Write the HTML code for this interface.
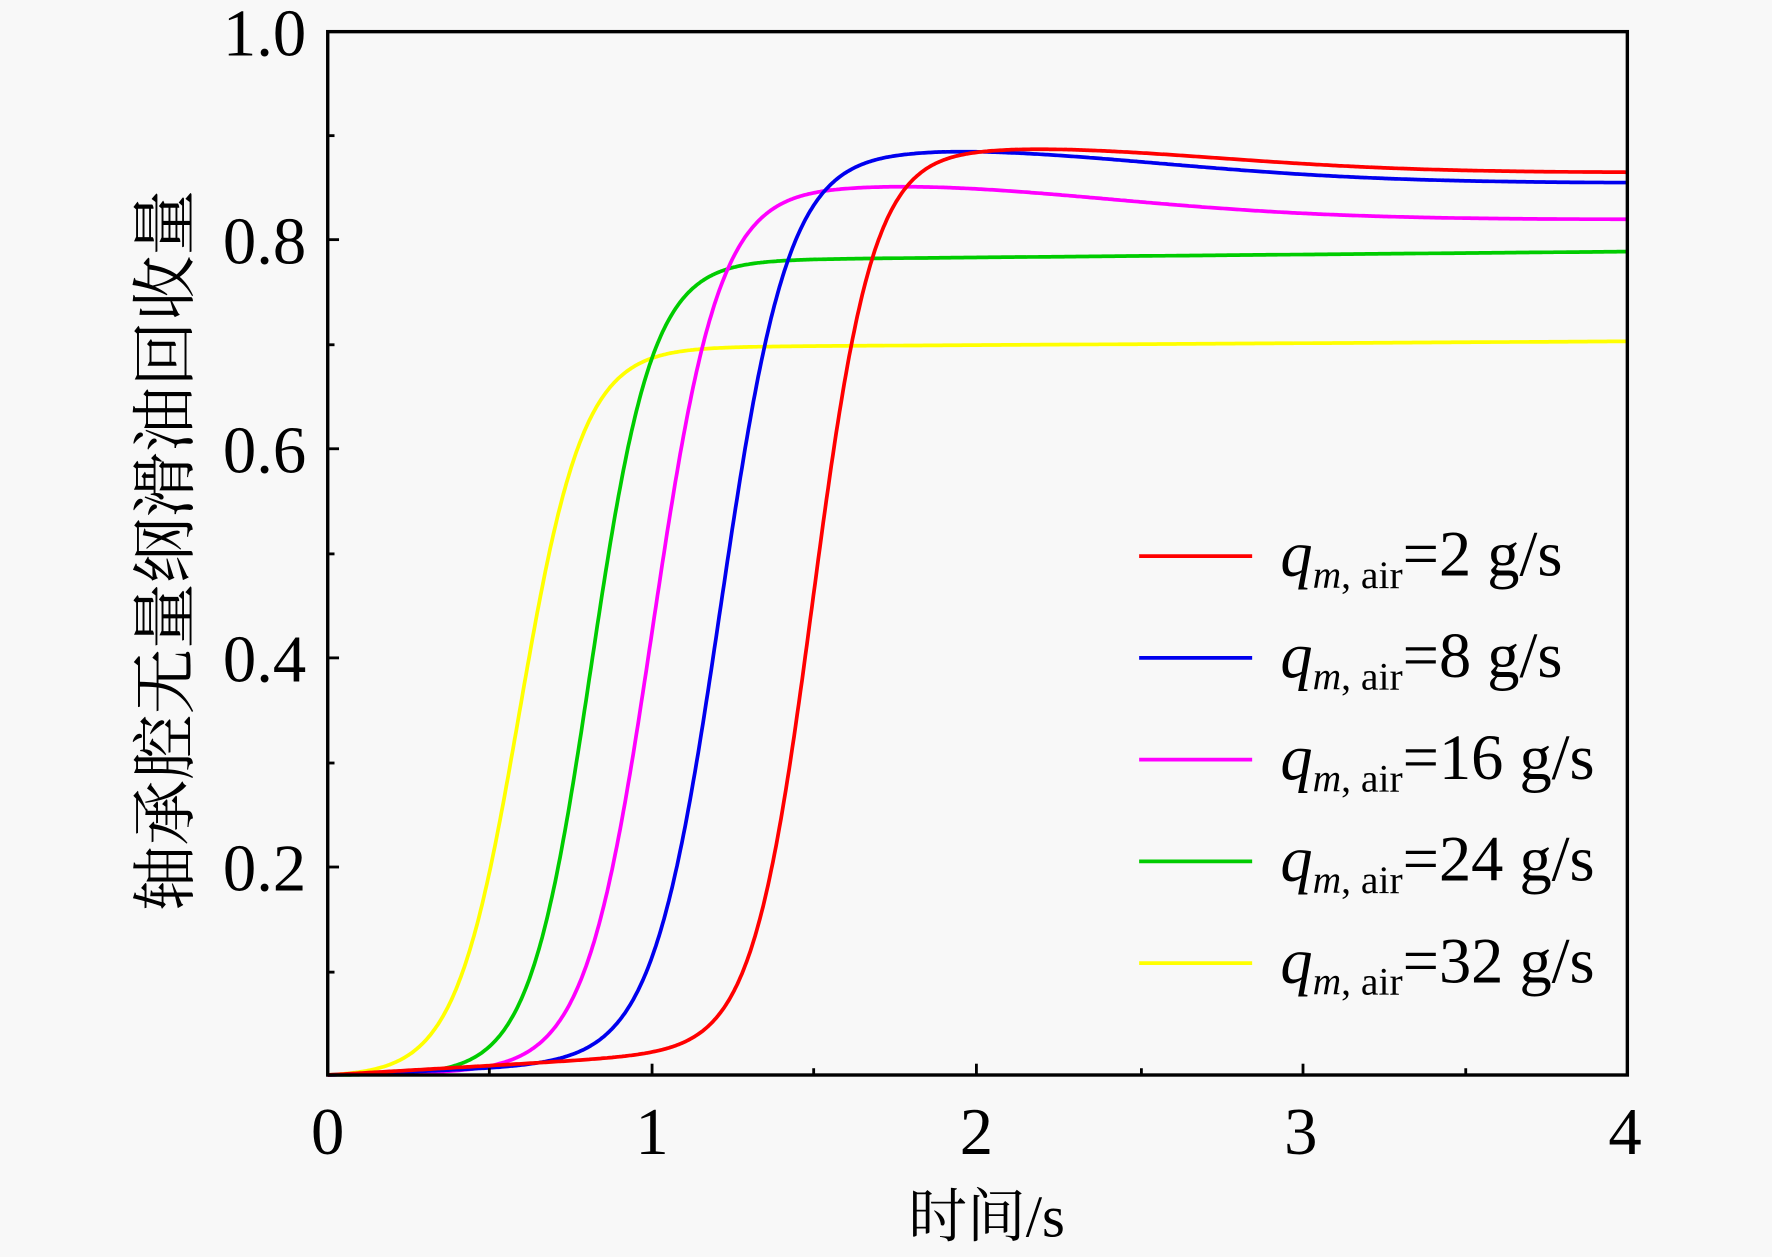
<!DOCTYPE html>
<html><head><meta charset="utf-8"><style>
html,body{margin:0;padding:0;background:#f8f8f8;}
svg{display:block;}
text{font-family:"Liberation Serif","Noto Serif CJK SC",serif;fill:#000;}
</style></head><body>
<svg width="1772" height="1257" viewBox="0 0 1568 1112" preserveAspectRatio="none" xmlns="http://www.w3.org/2000/svg">
<rect width="1568" height="1112" fill="#f8f8f8"/>
<g fill="none" stroke-width="3.3" stroke-linejoin="round">
<path id="cy" stroke="#ffff00"/>
<path id="cg" stroke="#00cc00"/>
<path id="cm" stroke="#ff00ff"/>
<path id="cb" stroke="#0000ee"/>
<path id="cr" stroke="#ff0000"/>
</g>
<rect x="290" y="28" width="1150" height="923" stroke="#000" stroke-width="3" fill="none"/>
<g stroke="#000" stroke-width="2.5">
<line x1="577" y1="951" x2="577" y2="941"/><line x1="864" y1="951" x2="864" y2="941"/><line x1="1153" y1="951" x2="1153" y2="941"/>
<line x1="433" y1="951" x2="433" y2="945"/><line x1="720" y1="951" x2="720" y2="945"/><line x1="1010" y1="951" x2="1010" y2="945"/><line x1="1297" y1="951" x2="1297" y2="945"/>
<line x1="290" y1="212" x2="300" y2="212"/><line x1="290" y1="397" x2="300" y2="397"/><line x1="290" y1="582" x2="300" y2="582"/><line x1="290" y1="767" x2="300" y2="767"/>
<line x1="290" y1="120" x2="296" y2="120"/><line x1="290" y1="305" x2="296" y2="305"/><line x1="290" y1="490" x2="296" y2="490"/><line x1="290" y1="675" x2="296" y2="675"/><line x1="290" y1="860" x2="296" y2="860"/>
</g>
<g font-size="59" text-anchor="end">
<text x="271" y="49">1.0</text><text x="271" y="233">0.8</text><text x="271" y="418">0.6</text><text x="271" y="603">0.4</text><text x="271" y="788">0.2</text>
</g>
<g font-size="59" text-anchor="middle">
<text x="290" y="1021">0</text><text x="577" y="1021">1</text><text x="864" y="1021">2</text><text x="1151" y="1021">3</text><text x="1438" y="1021">4</text>
</g>
<text x="873" y="1094" font-size="52" text-anchor="middle">时间/s</text>
<text transform="translate(166,487) rotate(-90)" font-size="58" text-anchor="middle">轴承腔无量纲滑油回收量</text>
<g stroke-width="3.3">
<line x1="1008" y1="492" x2="1108" y2="492" stroke="#ff0000"/>
<line x1="1008" y1="582" x2="1108" y2="582" stroke="#0000ee"/>
<line x1="1008" y1="672" x2="1108" y2="672" stroke="#ff00ff"/>
<line x1="1008" y1="762" x2="1108" y2="762" stroke="#00cc00"/>
<line x1="1008" y1="852" x2="1108" y2="852" stroke="#ffff00"/>
</g>
<g font-size="57">
<text x="1133" y="509"><tspan font-style="italic">q</tspan><tspan font-size="35" dy="11" font-style="italic">m</tspan><tspan font-size="35">, air</tspan><tspan dy="-11">=2 g/s</tspan></text>
<text x="1133" y="599"><tspan font-style="italic">q</tspan><tspan font-size="35" dy="11" font-style="italic">m</tspan><tspan font-size="35">, air</tspan><tspan dy="-11">=8 g/s</tspan></text>
<text x="1133" y="689"><tspan font-style="italic">q</tspan><tspan font-size="35" dy="11" font-style="italic">m</tspan><tspan font-size="35">, air</tspan><tspan dy="-11">=16 g/s</tspan></text>
<text x="1133" y="779"><tspan font-style="italic">q</tspan><tspan font-size="35" dy="11" font-style="italic">m</tspan><tspan font-size="35">, air</tspan><tspan dy="-11">=24 g/s</tspan></text>
<text x="1133" y="869"><tspan font-style="italic">q</tspan><tspan font-size="35" dy="11" font-style="italic">m</tspan><tspan font-size="35">, air</tspan><tspan dy="-11">=32 g/s</tspan></text>
</g>
</svg>
<script>
function mk(id,mid,k,Lp,Le,tp,w,b,dr){
  var d="";
  for(var i=0;i<=800;i++){
    var t=i/200;
    var L=t<tp?Lp:Le+(Lp-Le)*Math.exp(-Math.pow((t-tp)/w,2));
    L+=dr*t;
    var s=1/(1+Math.exp(-k*(t-mid)));
    var s0=1/(1+Math.exp(k*mid));
    var v=L*(s-s0)/(1-s0)+b*t*(1-s);
    var x=290+287.5*t, y=951-923*v;
    d+=(i?"L":"M")+x.toFixed(1)+","+y.toFixed(1);
  }
  document.getElementById(id).setAttribute("d",d);
}
mk("cy",0.59,10.2,0.696,0.696,4,1,0,0.0018);
mk("cg",0.81,10.6,0.778,0.778,4,1,0,0.0028);
mk("cm",1.0,9.8,0.852,0.82,1.7,1.0,0.005,0);
mk("cb",1.21,9.6,0.886,0.855,1.85,1.0,0.012,0);
mk("cr",1.494,10.8,0.888,0.865,2.1,0.9,0.018,0);
</script>
</body></html>
